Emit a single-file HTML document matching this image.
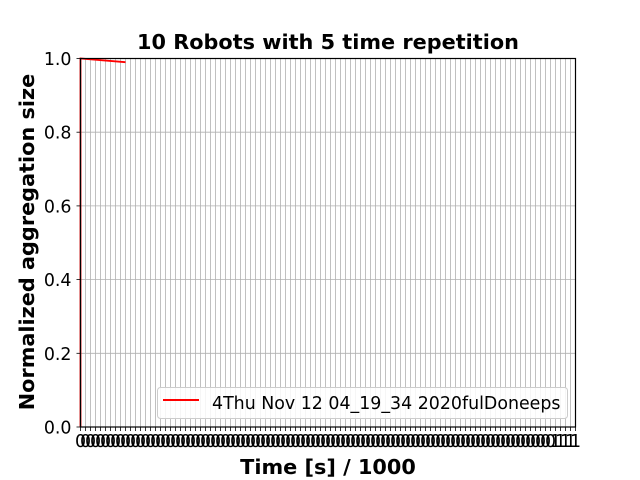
<!DOCTYPE html>
<html><head><meta charset="utf-8"><style>
body{margin:0;background:#fff;}
svg{display:block;font-family:"DejaVu Sans","Liberation Sans",sans-serif;}
</style></head><body>
<svg id="chart" width="640" height="480">
<rect width="640" height="480" fill="#fff"/>
<g id="grid"></g>
<g id="series"></g>
<rect x="80.5" y="58.5" width="495" height="368.5" fill="none" stroke="#000" stroke-width="1.2"/>
<g id="yticks"></g>
<g id="xticks"></g>
<text x="328" y="49" text-anchor="middle" font-size="20.8" font-weight="bold">10 Robots with 5 time repetition</text>
<text x="328" y="474" text-anchor="middle" font-size="20.8" font-weight="bold">Time [s] / 1000</text>
<text transform="translate(34,242) rotate(-90)" text-anchor="middle" font-size="20.8" font-weight="bold">Normalized aggregation size</text>
<g>
<rect x="157.5" y="387.5" width="410" height="31" rx="3" fill="#fff" fill-opacity="0.85" stroke="#ccc"/>
<line x1="163" y1="400" x2="199" y2="400" stroke="#f00" stroke-width="2"/>
<text x="212" y="409" font-size="17.4">4Thu Nov 12 04_19_34 2020fulDoneeps</text>
</g>
</svg>
<script>
const xTickCount = 100;
const yTicks = [0,0.2,0.4,0.6,0.8,1.0];
const yTickLabels = ["0.0","0.2","0.4","0.6","0.8","1.0"];
const seriesX = [0, 0, 9];
const seriesY = [0, 1.0, 0.99];
const NS="http://www.w3.org/2000/svg";
const X0=80.5,X1=575.5,Y0=427,Y1=58.5;
const xs=v=>X0+v*(X1-X0)/(xTickCount-1);
const ys=v=>Y0-v*(Y0-Y1);
function mk(t,a,p){const e=document.createElementNS(NS,t);for(const k in a)e.setAttribute(k,a[k]);p.appendChild(e);return e;}
const grid=document.getElementById('grid'),xt=document.getElementById('xticks'),yt=document.getElementById('yticks'),se=document.getElementById('series');
for(let i=0;i<xTickCount;i++){
  const x=xs(i);
  const g=mk('line',{x1:x,x2:x,y1:Y1,y2:Y0,stroke:'#b0b0b0','stroke-width':0.8},grid);
  
  
  const t=mk('line',{x1:x,x2:x,y1:Y0,y2:Y0+4,stroke:'#000','stroke-width':0.8},xt);
  
  
  const l=mk('text',{x:x,y:Y0+20,'text-anchor':'middle','font-size':17.4},xt);
  
  
  l.textContent=i>=95?'1':'0';
}
yTicks.forEach((v,i)=>{
  const y=ys(v);
  const g=mk('line',{x1:X0,x2:X1,y1:y,y2:y,stroke:'#b0b0b0','stroke-width':0.8},grid);
  
  
  const t=mk('line',{x1:X0-4,x2:X0,y1:y,y2:y,stroke:'#000','stroke-width':0.8},yt);
  
  
  const l=mk('text',{x:X0-9,y:y+6.5,'text-anchor':'end','font-size':17.4},yt);
  
  
  l.textContent=yTickLabels[i];
});
const pl=mk('polyline',{points:seriesX.map((x,i)=>xs(x)+','+ys(seriesY[i])).join(' '),fill:'none',stroke:'#f00','stroke-width':1.8},se);


</script>
</body></html>
